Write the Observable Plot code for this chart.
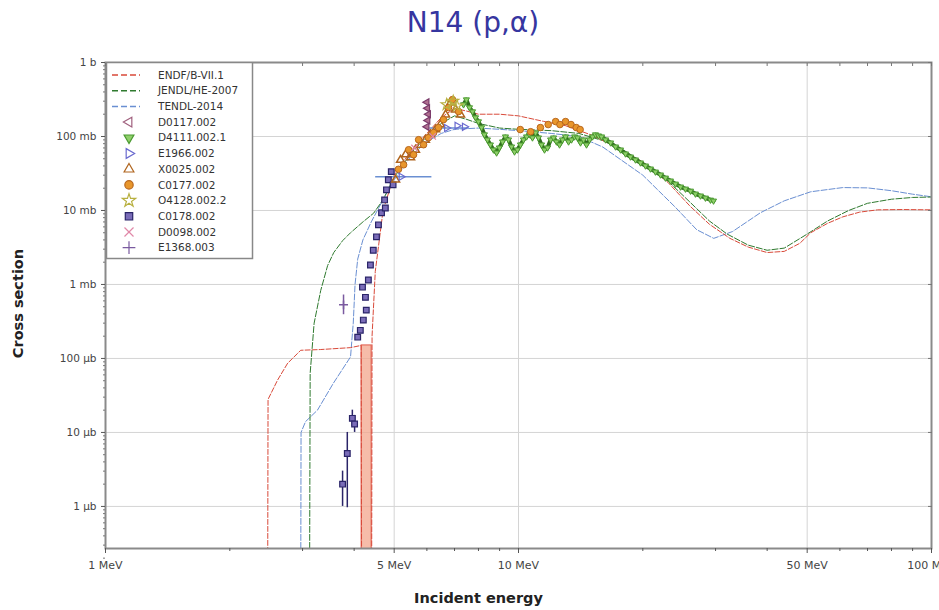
<!DOCTYPE html>
<html><head><meta charset="utf-8">
<script src="https://cdn.jsdelivr.net/npm/d3@7"></script>
<script src="https://cdn.jsdelivr.net/npm/@observablehq/plot@0.6"></script>
<style>
body{margin:0;background:#fff;font-family:"DejaVu Sans",sans-serif;}
#wrap{position:relative;width:939px;height:610px;overflow:hidden;background:#fff}
#title{position:absolute;left:0;top:0;width:946px;height:46px;line-height:46px;text-align:center;font-size:28px;color:#3636a0;font-family:"DejaVu Sans",sans-serif}
#chart{position:absolute;left:0;top:45px}
#legend{position:absolute;left:106px;top:62px}
</style></head><body>
<div id="wrap">
<div id="title">N14 (p,α)</div>
<div id="chart"></div>
<svg id="legend"></svg>
</div>
<script>
// ---------- axis ticks ----------
const xTicks = [1, 5, 10, 50, 100];
const xLabels = ["1 MeV", "5 MeV", "10 MeV", "50 MeV", "100 MeV"];
const xMinor = [2, 3, 4, 6, 7, 8, 9, 20, 30, 40, 60, 70, 80, 90];
const xGrid = [5, 10, 50];
const yTicks = [1e-6, 1e-5, 1e-4, 1e-3, 1e-2, 1e-1, 1];
const yLabels = ["1 μb", "10 μb", "100 μb", "1 mb", "10 mb", "100 mb", "1 b"];

// ---------- evaluated cross sections (E in MeV, sigma in b) ----------
const endfE = [2.47, 2.475, 2.61, 2.76, 2.97, 3.32, 3.92, 4.16, 4.17, 4.41, 4.42, 4.5, 4.7, 5.0, 5.5, 6.0, 6.5, 7.0, 7.5, 8.0, 9.0, 10.0, 11.5, 13.0, 15.0, 17.0, 20.0, 23.0, 26.0, 29.0, 32.5, 36.0, 40.0, 44.0, 48.0, 51.0, 56.0, 61.0, 67.0, 74.0, 85.0, 100];
const endfS = [1e-7, 2.8e-5, 5.1e-5, 8.6e-5, 1.29e-4, 1.32e-4, 1.4e-4, 1.5e-4, 1e-7, 1e-7, 2.0e-4, 1.5e-3, 1.0e-2, 0.03, 0.065, 0.11, 0.18, 0.24, 0.22, 0.2, 0.2, 0.19, 0.16, 0.14, 0.105, 0.075, 0.045, 0.024, 0.0115, 0.0065, 0.0042, 0.0032, 0.0027, 0.0028, 0.0036, 0.0050, 0.0067, 0.0082, 0.0095, 0.0102, 0.0103, 0.0102];
const endfBandE = [4.17, 4.41];
const endfBandTop = 1.5e-4;

const jendlE = [3.12, 3.13, 3.20, 3.32, 3.45, 3.57, 3.75, 3.92, 4.2, 4.46, 4.7, 5.0, 5.5, 6.0, 6.5, 7.0, 7.5, 8.0, 9.0, 10, 12, 14, 16, 18, 20, 23, 26, 29, 32, 36, 40, 44, 50, 56, 63, 70, 80, 90, 100];
const jendlS = [1e-7, 6.3e-5, 3e-4, 8.3e-4, 1.8e-3, 2.7e-3, 3.9e-3, 5.0e-3, 7.0e-3, 9.2e-3, 0.014, 0.028, 0.06, 0.1, 0.15, 0.19, 0.17, 0.15, 0.13, 0.125, 0.12, 0.11, 0.088, 0.065, 0.045, 0.025, 0.013, 0.0072, 0.0048, 0.0034, 0.0029, 0.0031, 0.0048, 0.0072, 0.0100, 0.0125, 0.0142, 0.0150, 0.0152];

const tendlE = [2.97, 2.975, 3.05, 3.26, 3.56, 3.92, 3.98, 4.02, 4.08, 4.2, 4.4, 4.7, 5.0, 5.5, 6.0, 6.5, 7.0, 8, 9, 10, 12, 14, 16, 20, 24, 27, 29.7, 33, 38.5, 44, 51, 61, 70, 80, 90, 100];
const tendlS = [1e-7, 1e-5, 1.4e-5, 2e-5, 4.6e-5, 1.05e-4, 3e-4, 1e-3, 2.2e-3, 4e-3, 7e-3, 0.014, 0.026, 0.055, 0.085, 0.11, 0.125, 0.13, 0.125, 0.12, 0.11, 0.1, 0.072, 0.03, 0.011, 0.0055, 0.0042, 0.0052, 0.0093, 0.0135, 0.0179, 0.0204, 0.0202, 0.0185, 0.0166, 0.0153];

// ---------- experimental data ----------
const d0117E = [6.0, 6.02, 6.05, 6.03, 6.0];
const d0117S = [0.29, 0.24, 0.20, 0.165, 0.135];

const d4111E = [7.36, 7.48, 7.61, 7.74, 7.87, 8.00, 8.14, 8.27, 8.41, 8.55, 8.70, 8.85, 8.99, 9.15, 9.30, 9.46, 9.62, 9.78, 9.94, 10.11, 10.28, 10.46, 10.63, 10.81, 11.00, 11.18, 11.37, 11.56, 11.76, 11.96, 12.16, 12.36, 12.57, 12.78, 13.00, 13.22, 13.44, 13.67, 13.90, 14.13, 14.37, 14.61, 14.86, 15.11, 15.36, 15.62, 15.89, 16.25, 16.71, 17.18, 17.66, 18.16, 18.67, 19.20, 19.74, 20.30, 20.87, 21.46, 22.07, 22.69, 23.33, 23.99, 24.68, 25.37, 26.09, 26.82, 27.58, 28.36, 29.16, 29.66];
const d4111S = [0.270, 0.315, 0.246, 0.217, 0.180, 0.159, 0.132, 0.106, 0.0905, 0.0774, 0.0662, 0.0603, 0.0705, 0.0850, 0.0994, 0.0905, 0.0727, 0.0622, 0.0662, 0.0774, 0.0905, 0.0994, 0.106, 0.0963, 0.1126, 0.0963, 0.0774, 0.0662, 0.0705, 0.0905, 0.0963, 0.0850, 0.0774, 0.0905, 0.0994, 0.0850, 0.0905, 0.0994, 0.0963, 0.0824, 0.0905, 0.0774, 0.0905, 0.0994, 0.106, 0.1025, 0.0994, 0.0905, 0.0824, 0.0727, 0.0662, 0.0585, 0.0532, 0.0485, 0.0442, 0.0402, 0.0366, 0.0333, 0.0304, 0.0276, 0.0252, 0.0229, 0.0209, 0.0196, 0.0184, 0.0168, 0.0158, 0.0148, 0.0139, 0.0135];

const e1966E = [5.2, 6.7, 7.1, 7.4];
const e1966S = [0.0285, 0.13, 0.14, 0.135];
const e1966Lo = [4.51, 6.1, 7.1, 7.4];
const e1966Hi = [6.17, 7.6, 7.1, 7.4];

const x0025E = [5.04, 5.18, 5.33, 5.48, 5.63, 5.79, 5.95, 6.12, 6.30, 6.47, 6.66, 6.85, 7.04, 7.24];
const x0025S = [0.026, 0.048, 0.057, 0.052, 0.066, 0.077, 0.09, 0.106, 0.124, 0.145, 0.197, 0.287, 0.231, 0.197];

const c0177E = [5.12, 5.27, 5.42, 5.57, 5.73, 5.89, 6.05, 6.23, 6.40, 6.58, 6.77, 6.92, 7.16, 10.1, 10.7, 11.3, 11.8, 12.3, 12.6, 13.0, 13.4, 13.8, 14.1];
const c0177S = [0.036, 0.0415, 0.0662, 0.0567, 0.0905, 0.0774, 0.0963, 0.113, 0.132, 0.169, 0.246, 0.315, 0.217, 0.124, 0.116, 0.132, 0.145, 0.159, 0.145, 0.159, 0.145, 0.132, 0.124];

const o4128E = [6.7, 6.95, 7.1];
const o4128S = [0.27, 0.30, 0.26];

const c0178E = [3.75, 3.85, 3.96, 4.01, 4.08, 4.14, 4.21, 4.28, 4.26, 4.19, 4.33, 4.38, 4.45, 4.53, 4.58, 4.66, 4.74, 4.79, 4.84, 4.92, 4.97, 4.76];
const c0178S = [2.0e-6, 5.2e-6, 1.55e-5, 1.3e-5, 1.94e-4, 2.4e-4, 3.3e-4, 4.5e-4, 6.7e-4, 9.2e-4, 1.15e-3, 1.83e-3, 2.9e-3, 4.4e-3, 6.4e-3, 9.3e-3, 0.0139, 0.019, 0.026, 0.0335, 0.0222, 0.0108];
const c0178ErrE = [3.75, 3.85, 3.96, 4.01];
const c0178ErrLo = [1.0e-6, 9.6e-7, 1.2e-5, 1.0e-5];
const c0178ErrHi = [3.0e-6, 1.0e-5, 2.0e-5, 1.7e-5];

const d0098E = [5.6, 6.2];
const d0098S = [0.07, 0.10];

const e1368E = [3.77];
const e1368S = [5.3e-4];
const e1368Lo = [3.9e-4];
const e1368Hi = [7.2e-4];

// ---------- legend ----------
const legendNames = ["ENDF/B-VII.1", "JENDL/HE-2007", "TENDL-2014", "D0117.002", "D4111.002.1", "E1966.002", "X0025.002", "C0177.002", "O4128.002.2", "C0178.002", "D0098.002", "E1368.003"];

// ---------- helpers / styles ----------
const rows = (E, S) => E.map((e, i) => ({E: e, S: S[i]}));
function tri(angle) {
  return {draw(ctx, size) {
    const r = Math.sqrt(size / Math.PI) * 1.35;
    for (let i = 0; i < 3; i++) {
      const a = angle + i * 2 * Math.PI / 3;
      const px = r * Math.cos(a), py = r * Math.sin(a);
      if (i) ctx.lineTo(px, py); else ctx.moveTo(px, py);
    }
    ctx.closePath();
  }};
}
const triUp = tri(-Math.PI / 2), triDown = tri(Math.PI / 2), triLeft = tri(Math.PI), triRight = tri(0);

const lineStyle = [
  {stroke: "#d94a3a"}, {stroke: "#2f7a2f"}, {stroke: "#6a8fd2"}
];
const markStyle = [
  {symbol: triLeft, stroke: "#a0607e", fill: "none"},
  {symbol: triDown, stroke: "#4a9a30", fill: "#8fcf6a"},
  {symbol: triRight, stroke: "#6a6acf", fill: "none"},
  {symbol: triUp, stroke: "#b0651e", fill: "none"},
  {symbol: d3.symbolCircle, stroke: "#b8661c", fill: "#e8962c"},
  {symbol: d3.symbolStar, stroke: "#b8b040", fill: "none"},
  {symbol: d3.symbolSquare, stroke: "#2a2468", fill: "#7a6cb8"},
  {symbol: d3.symbolTimes, stroke: "#e088a8", fill: "none"},
  {symbol: d3.symbolPlus, stroke: "#7a5aa0", fill: "none"}
];

const yMinor = [];
for (let p = -7; p <= -1; p++) for (let m = 2; m <= 9; m++) yMinor.push(m * Math.pow(10, p));

const chart = Plot.plot({
  width: 939, height: 565,
  marginTop: 17, marginBottom: 62, marginLeft: 105, marginRight: 8,
  style: {fontFamily: "DejaVu Sans, sans-serif", fontSize: "10.5px", color: "#333", background: "white", overflow: "hidden"},
  x: {type: "log", domain: [1, 100]},
  y: {type: "log", domain: [2.7e-7, 1]},
  marks: [
    Plot.gridY(yTicks, {stroke: "#d4d4d4", strokeOpacity: 1}),
    Plot.gridX(xGrid, {stroke: "#d4d4d4", strokeOpacity: 1}),
    // ENDF resonance band
    Plot.rect([{x1: endfBandE[0], x2: endfBandE[1], y1: 1e-9, y2: endfBandTop}], {x1: "x1", x2: "x2", y1: "y1", y2: "y2", fill: "#f3a58c", fillOpacity: 0.75, stroke: "#e05a4a", strokeWidth: 1, clip: true}),
    // evaluations
    Plot.line(rows(tendlE, tendlS), {x: "E", y: "S", stroke: lineStyle[2].stroke, strokeWidth: 1, strokeDasharray: "6,2", clip: true}),
    Plot.line(rows(jendlE, jendlS), {x: "E", y: "S", stroke: lineStyle[1].stroke, strokeWidth: 1, strokeDasharray: "6,2", clip: true}),
    Plot.line(rows(endfE, endfS), {x: "E", y: "S", stroke: lineStyle[0].stroke, strokeWidth: 1, strokeDasharray: "5,2", clip: true}),
    // error bars
    Plot.ruleX(c0178ErrE.map((e, i) => ({E: e, lo: c0178ErrLo[i], hi: c0178ErrHi[i]})), {x: "E", y1: "lo", y2: "hi", stroke: "#2a2468", strokeWidth: 1.5}),
    Plot.ruleX(e1368E.map((e, i) => ({E: e, lo: e1368Lo[i], hi: e1368Hi[i]})), {x: "E", y1: "lo", y2: "hi", stroke: "#7a5aa0", strokeWidth: 1.5}),
    Plot.ruleY(e1966E.map((e, i) => ({S: e1966S[i], lo: e1966Lo[i], hi: e1966Hi[i]})), {y: "S", x1: "lo", x2: "hi", stroke: "#6a8fd2", strokeWidth: 1.5}),
    // experimental points
    Plot.line(rows(d4111E, d4111S), {x: "E", y: "S", stroke: "#2f6a1e", strokeWidth: 4}),
    Plot.dot(rows(d4111E, d4111S), {x: "E", y: "S", r: 2.6, ...markStyle[1], strokeWidth: 1}),
    Plot.dot(rows(c0178E, c0178S), {x: "E", y: "S", r: 3.2, ...markStyle[6], strokeWidth: 1.2}),
    Plot.dot(rows(x0025E, x0025S), {x: "E", y: "S", r: 3.4, ...markStyle[3], strokeWidth: 1.5}),
    Plot.dot(rows(c0177E, c0177S), {x: "E", y: "S", r: 3.3, ...markStyle[4], strokeWidth: 1}),
    Plot.dot(rows(o4128E, o4128S), {x: "E", y: "S", r: 3.5, ...markStyle[5], strokeWidth: 1.2}),
    Plot.dot(rows(d0098E, d0098S), {x: "E", y: "S", r: 3, ...markStyle[7], strokeWidth: 1.2}),
    Plot.dot(rows(d0117E, d0117S), {x: "E", y: "S", r: 3, symbol: triLeft, stroke: "#7a3a6a", fill: "#b07090", strokeWidth: 1.2}),
    Plot.dot(rows(e1966E, e1966S), {x: "E", y: "S", r: 3, ...markStyle[2], strokeWidth: 1.2}),
    Plot.dot(rows(e1368E, e1368S), {x: "E", y: "S", r: 3, ...markStyle[8], strokeWidth: 1.5}),
    // frame and axes
    Plot.frame({stroke: "#8a8a8a", strokeWidth: 2}),
    Plot.axisX(xTicks, {tickFormat: d => xLabels[xTicks.indexOf(d)], tickSize: 5, tickPadding: 8, label: null, stroke: "#555", fill: "#444", fontSize: 11}),
    Plot.axisX(xMinor, {tickFormat: () => "", tickSize: 3, label: null, stroke: "#555"}),
    Plot.axisX(xTicks.concat(xMinor), {anchor: "top", tickFormat: () => "", tickSize: -3, label: null, stroke: "#777"}),
    Plot.axisY(yTicks, {tickFormat: d => yLabels[yTicks.indexOf(d)], tickSize: 4, tickPadding: 5, label: null, stroke: "#555", fill: "#444"}),
    Plot.axisY(yMinor, {tickFormat: () => "", tickSize: 2, label: null, stroke: "#777"}),
    Plot.axisY(yTicks, {anchor: "right", tickFormat: () => "", tickSize: -4, label: null, stroke: "#777"}),
    Plot.text(["Cross section"], {frameAnchor: "left", dx: -87, dy: -2, rotate: -90, textAnchor: "middle", lineAnchor: "middle", fontWeight: "bold", fontSize: 14.5, fill: "#222"}),
    Plot.text(["Incident energy"], {frameAnchor: "bottom", dx: -40, dy: 50, textAnchor: "middle", lineAnchor: "middle", fontWeight: "bold", fontSize: 14.5, fill: "#222"})
  ]
});
document.getElementById("chart").appendChild(chart);

// ---------- legend box ----------
const leg = d3.select("#legend").attr("width", 148).attr("height", 198)
  .style("font-family", "DejaVu Sans, sans-serif").style("font-size", "10.5px");
leg.append("rect").attr("x", 0.5).attr("y", 0.5).attr("width", 146).attr("height", 196)
  .attr("fill", "white").attr("stroke", "#888").attr("stroke-width", 1.5);
legendNames.forEach((name, i) => {
  const y = 13 + i * 15.7;
  if (i < 3) {
    leg.append("line").attr("x1", 6).attr("x2", 34).attr("y1", y).attr("y2", y)
      .attr("stroke", lineStyle[i].stroke).attr("stroke-width", 1.5).attr("stroke-dasharray", "6,3");
  } else {
    const s = markStyle[i - 3];
    leg.append("path").attr("transform", `translate(23,${y})`)
      .attr("d", d3.symbol(s.symbol, 55)())
      .attr("fill", s.fill).attr("stroke", s.stroke).attr("stroke-width", 1.2);
  }
  leg.append("text").attr("x", 52).attr("y", y).attr("dy", "0.35em").attr("fill", "#333").text(name);
});
</script>
</body></html>
